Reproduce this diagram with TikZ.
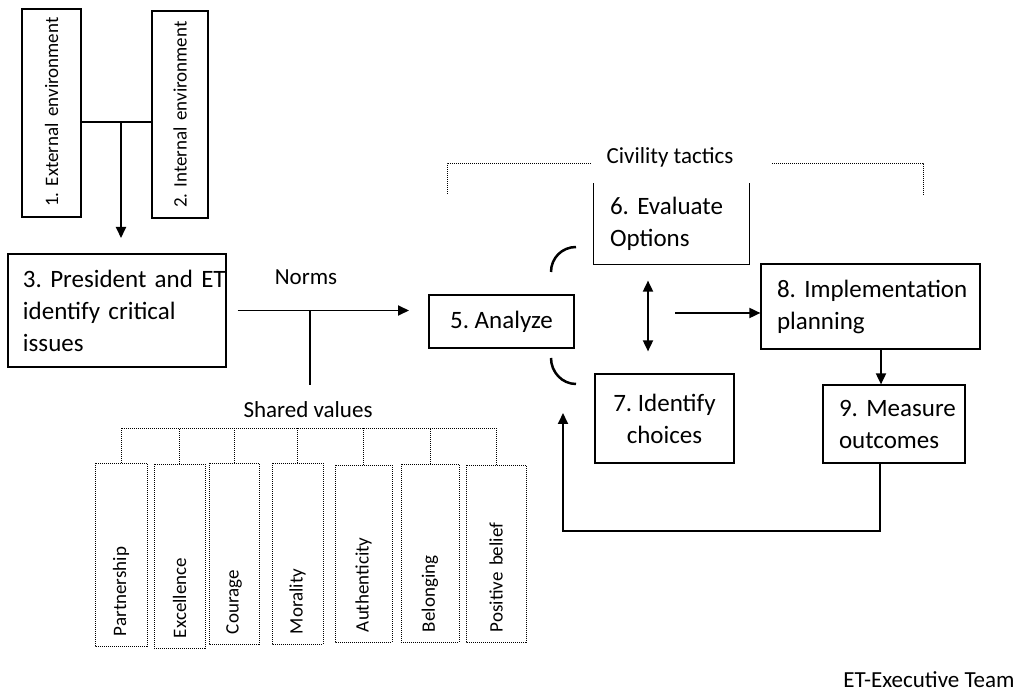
\documentclass[tikz,border=0pt]{standalone}
\usepackage{fontspec}
\setmainfont{Carlito}
\usetikzlibrary{arrows.meta}
\frenchspacing
\begin{document}
\begin{tikzpicture}[x=1pt,y=-1pt,
  box/.style={draw, line width=1.2pt, inner ysep=0pt, font=\fontsize{25}{32}\selectfont},
  lbox/.style={box, align=left, inner xsep=16pt},
  vbox/.style={draw, line width=1.2pt, rotate=90, inner xsep=10pt, inner ysep=0pt, align=left, font=\fontsize{19}{23}\selectfont},
  valbox/.style={vbox, dash pattern=on 1pt off 1pt, line width=0.9pt},
  lab/.style={font=\fontsize{23}{28}\selectfont, inner sep=0pt},
  link/.style={line width=1.6pt},
  arr/.style={line width=1.8pt, -{Triangle[length=11pt,width=10pt]}},
  dots/.style={line width=0.9pt, dash pattern=on 1pt off 1pt},
]
\useasboundingbox (0,0) rectangle (1021,692);

% environment boxes
\node[vbox, text width=188pt, minimum width=208pt, minimum height=59pt] (b1) at (51.5,113) {\mbox{1. External environment}};
\node[vbox, text width=187pt, minimum width=207pt, minimum height=56pt] (b2) at (180,114.5) {\mbox{2. Internal environment}};
\coordinate (j1) at (121,122);
\coordinate (a3) at (121,238);
\draw[link] (b1.south |- j1) -- (b2.north |- j1);
\draw[arr] (j1) -- (a3);

% main process boxes
\node[lbox, inner xsep=15pt, text width=188pt, minimum width=218pt, minimum height=113pt] (b3) at (117,310.5)
  {\mbox{3. President and ET}\\ \mbox{identify critical}\\ issues};
\node[box, line width=2pt, minimum width=145pt, minimum height=53pt] (b5) at (501.5,321.5) {5. Analyze};
\node[lbox, draw=none, text width=123pt, minimum width=155pt, minimum height=80pt] (b6) at (671.5,224) {6. Evaluate\\Options};
\draw[line width=1.2pt] (b6.north west) -- (b6.south west) -- (b6.south east) -- (b6.north east);
\node[box, align=center, minimum width=139pt, minimum height=89pt] (b7) at (664.5,418.5) {7. Identify\\choices};
\node[lbox, text width=187pt, minimum width=219pt, minimum height=85pt] (b8) at (870.5,306.5) {\mbox{8. Implementation}\\planning};
\node[lbox, text width=110pt, minimum width=142pt, minimum height=78pt] (b9) at (894,424) {\mbox{9. Measure}\\outcomes};

% labels
\node[lab] (nm) at (306,277) {Norms};
\node[lab] (sv) at (308,410) {Shared values};
\node[lab] (ct) at (670,157) {Civility tactics};
\node[lab] (et) at (929,680) {ET-Executive Team};

% norms flow and shared values stem
\draw[arr, shorten <=11pt, shorten >=19pt] (b3.east) -- (b3.east -| b5.west);
\draw[link] (b3.east -| 310,0) -- (310,385);

% civility tactics bracket
\draw[dots] (447,194) -- (447,163) -- (592,163);
\draw[dots] (772,163) -- (923,163) -- (923,195);

% arcs around the analysis step
\draw[line width=2.5pt] (551,272) .. controls (551,258) and (562,247) .. (576,247);
\draw[line width=2.5pt] (551,358) .. controls (551,372) and (562,384) .. (576,384);

% evaluation / choice exchange and onward flow
\draw[line width=1.8pt, {Triangle[length=11pt,width=10pt]}-{Triangle[length=11pt,width=10pt]}, shorten <=16pt, shorten >=22pt]
  (b6.south -| 648,0) -- (b7.north -| 648,0);
\coordinate (m) at (675,313);
\draw[arr] (m) -- (m -| b8.west);
\draw[arr] (b8.south -| 881,0) -- (b9.north -| 881,0);
\coordinate (fb) at (563,413);
\draw[arr] (b9.south -| 880,0) -- (880,531) -| (fb);

% shared values
\node[valbox, text width=163pt, minimum width=183pt, minimum height=52pt] (v1) at (121,554.5) {Partnership};
\node[valbox, text width=164pt, minimum width=184pt, minimum height=51pt] (v2) at (179.5,556) {Excellence};
\node[valbox, text width=161pt, minimum width=181pt, minimum height=50pt] (v3) at (234,553.5) {Courage};
\node[valbox, text width=161pt, minimum width=181pt, minimum height=51pt] (v4) at (297.5,553.5) {Morality};
\node[valbox, text width=157pt, minimum width=177pt, minimum height=57pt] (v5) at (363.5,553.5) {Authenticity};
\node[valbox, text width=158pt, minimum width=178pt, minimum height=58pt] (v6) at (430,553) {Belonging};
\node[valbox, text width=157pt, minimum width=177pt, minimum height=60pt] (v7) at (496,553.5) {\mbox{Positive belief}};
\draw[dots] (v1.east) -- (v1.east |- 0,428) -- (v7.east |- 0,428) -- (v7.east);
\foreach \i in {2,...,6} \draw[dots] (v\i.east) -- (v\i.east |- 0,428);
\end{tikzpicture}
\end{document}
